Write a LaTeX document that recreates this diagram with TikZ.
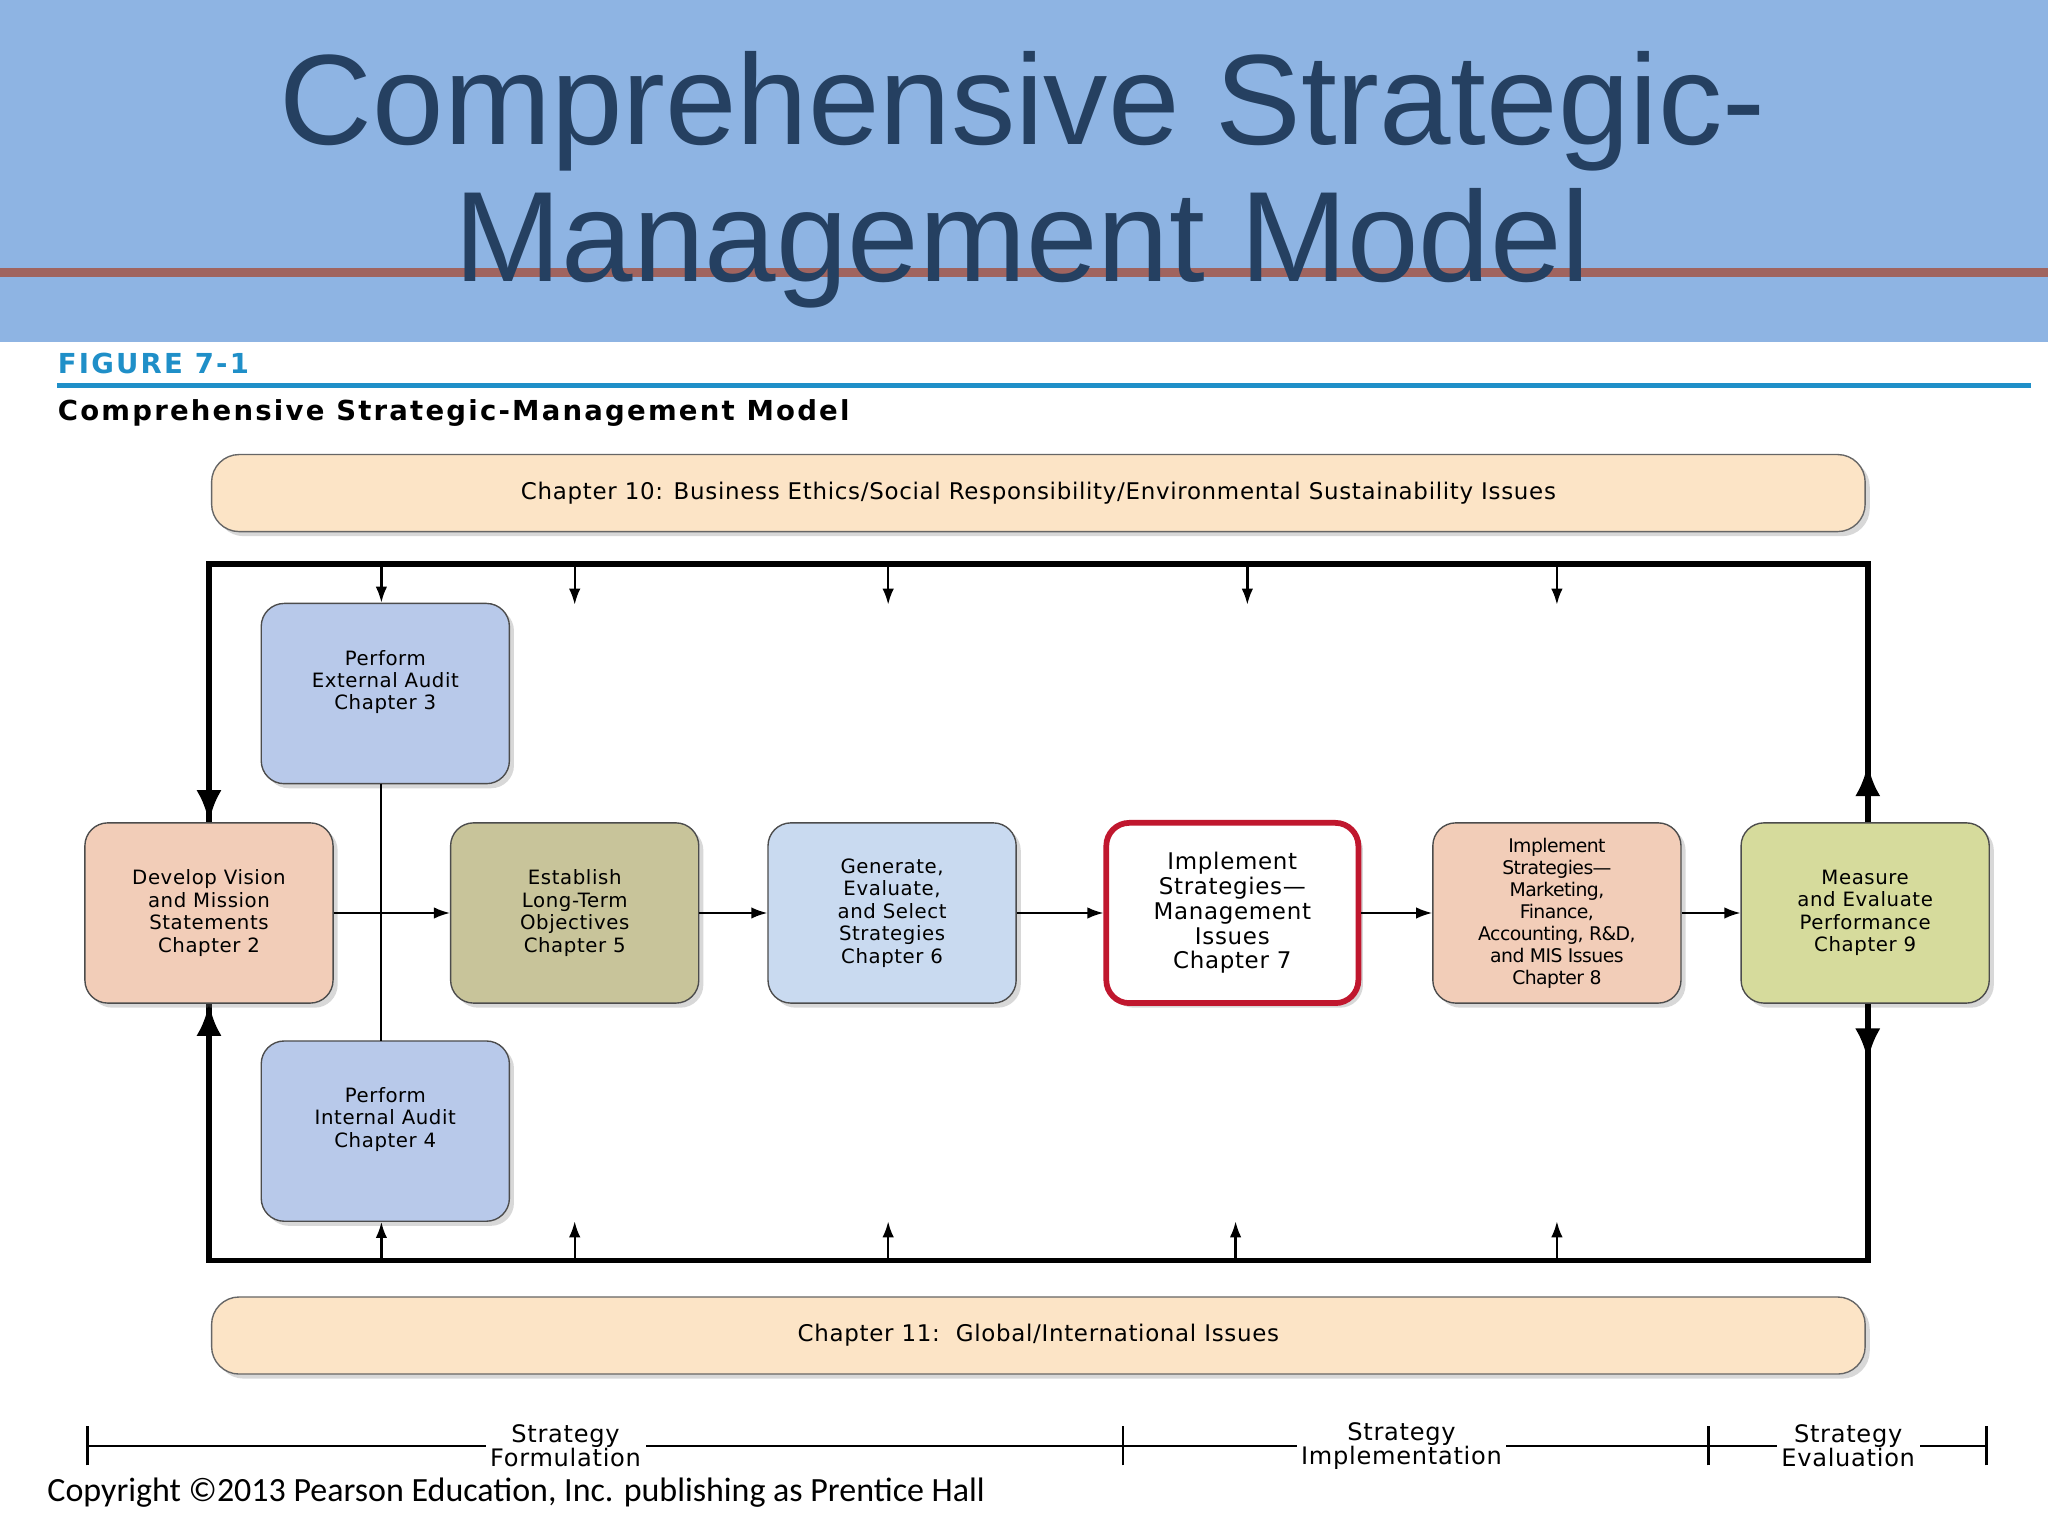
\documentclass[tikz,border=0pt]{standalone}
\usepackage{fontspec}
\setmainfont{DejaVu Sans}[LetterSpace=3]
\newfontfamily\carl{Carlito}
\newfontfamily\ttlfont{Liberation Sans}
\newfontfamily\headfont{DejaVu Sans}[LetterSpace=8]
\usetikzlibrary{arrows.meta,shadows}
\definecolor{band}{HTML}{8EB4E3}
\definecolor{ttl}{HTML}{254061}
\definecolor{rline}{HTML}{A0645F}
\definecolor{figblue}{HTML}{1F8FC8}
\definecolor{bar}{HTML}{FCE4C6}
\definecolor{peach}{HTML}{F2CDB8}
\definecolor{olive}{HTML}{C8C49A}
\definecolor{lblue}{HTML}{C9DAF0}
\definecolor{audit}{HTML}{B8C9EA}
\definecolor{lime}{HTML}{D6DB9C}
\definecolor{redb}{HTML}{C0172E}
\tikzset{
 pbox/.style={draw=black!70,line width=0.6pt,rounded corners=10pt,drop shadow={shadow xshift=2pt,shadow yshift=-2pt,opacity=0.3},align=center,font=\fontsize{8.6}{9.8}\selectfont,inner sep=0pt},
 hbar/.style={draw=black!60,line width=0.6pt,rounded corners=12pt,fill=bar,drop shadow={shadow xshift=2pt,shadow yshift=-2pt,opacity=0.3},font=\fontsize{10}{12}\selectfont},
 flow/.style={-{Latex[length=7pt,width=5pt]},line width=0.8pt},
 small/.style={-{Latex[length=7pt,width=5pt]},line width=1pt},
 big/.style={-{Latex[length=14pt,width=11pt]},line width=2.5pt},
 phase/.style={align=center,font=\fontsize{10.5}{10.5}\selectfont,fill=white,inner sep=2pt}
}
\begin{document}
\begin{tikzpicture}[x=0.02cm,y=-0.02cm]
\useasboundingbox (0,0) rectangle (1568,1176);
\fill[white] (0,0) rectangle (1568,1176);
\fill[band] (0,0) rectangle (1568,262);
\fill[rline] (0,205) rectangle (1568,212);
\node[text=ttl,font=\ttlfont\fontsize{56}{56}\selectfont] (t1) at (783,85) {Comprehensive Strategic-};
\node[text=ttl,font=\ttlfont\fontsize{56}{56}\selectfont] (t2) at (783,190) {Management Model};
\node[anchor=west,text=figblue,font=\headfont\bfseries\fontsize{12}{12}\selectfont,inner sep=0] (fig) at (44,278) {FIGURE 7-1};
\draw[figblue,line width=2.2pt] (44,295) -- (1555,295);
\node[anchor=west,font=\headfont\bfseries\fontsize{12}{12}\selectfont,inner sep=0] (ft) at (44,316) {Comprehensive Strategic-Management Model};
\node[hbar,minimum width=1266*0.02cm,minimum height=59*0.02cm] (top) at (795,377.5) {Chapter 10: Business Ethics/Social Responsibility/Environmental Sustainability Issues};
\node[hbar,minimum width=1266*0.02cm,minimum height=59*0.02cm] (bot) at (795,1022.5) {Chapter 11:\ \ Global/International Issues};
% frame
\coordinate (c1) at (160,432); \coordinate (c2) at (1430,432);
\coordinate (c3) at (1430,965); \coordinate (c4) at (160,965);
\draw[line width=2.5pt] (160,630) -- (c1) -- (c2) -- (1430,630);
\draw[line width=2.5pt] (160,768) -- (c4) -- (c3) -- (1430,768);
% boxes
\def\bw{190*0.02cm}\def\bh{138*0.02cm}
\node[pbox,fill=peach,minimum width=\bw,minimum height=\bh] (dv) at (160,699) {Develop Vision\\and Mission\\Statements\\Chapter 2};
\node[pbox,fill=olive,minimum width=\bw,minimum height=\bh] (el) at (440,699) {Establish\\Long-Term\\Objectives\\Chapter 5};
\node[pbox,fill=lblue,minimum width=\bw,minimum height=\bh] (ge) at (683,699) {Generate,\\Evaluate,\\and Select\\Strategies\\Chapter 6};
\node[pbox,fill=white,draw=redb,line width=2.5pt,minimum width=193*0.02cm,minimum height=\bh,font=\fontsize{10}{10.8}\selectfont] (im) at (943.5,699) {Implement\\Strategies---\\Management\\Issues\\Chapter 7};
\node[pbox,fill=peach,minimum width=\bw,minimum height=\bh,font=\addfontfeature{LetterSpace=-3}\fontsize{8.2}{9.6}\selectfont] (is) at (1192,699) {Implement\\Strategies---\\Marketing,\\Finance,\\Accounting, R\&D,\\and MIS Issues\\Chapter 8};
\node[pbox,fill=lime,minimum width=\bw,minimum height=\bh] (me) at (1428,699) {Measure\\and Evaluate\\Performance\\Chapter 9};
\node[pbox,fill=audit,minimum width=\bw,minimum height=\bh] (ea) at (295,531) {\raisebox{12pt}{\shortstack{Perform\\External Audit\\Chapter 3}}};
\node[pbox,fill=audit,minimum width=\bw,minimum height=\bh] (ia) at (295,866) {\raisebox{12pt}{\shortstack{Perform\\Internal Audit\\Chapter 4}}};
% flows
\draw[line width=0.8pt] (292,600) -- (292,797);
\draw[flow] (dv.east) -- (el.west);
\draw[flow] (el.east) -- (ge.west);
\draw[flow] (ge.east) -- (im.west);
\draw[flow] (im.east) -- (is.west);
\draw[flow] (is.east) -- (me.west);
% small arrows
\draw[small] (292,432) -- (ea.north -| 292,0);
\foreach \x in {440,680,955,1192} \draw[small] (\x,432) -- (\x,463);
\draw[small] (292,965) -- (ia.south -| 292,0);
\foreach \x in {440,680,946,1192} \draw[small] (\x,965) -- (\x,935);
% big arrows
\draw[big] (160,590) -- (dv.north -| 160,0);
\draw[big] (160,810) -- (dv.south -| 160,0);
\draw[big] (me.north -| 1430,0) -- (1430,585);
\draw[big] (me.south -| 1430,0) -- (1430,812);
% timeline
\coordinate (p0) at (67,1107); \coordinate (p1) at (860,1107);
\coordinate (p2) at (1308,1107); \coordinate (p3) at (1521,1107);
\draw[line width=1pt] (p0) -- (p3);
\foreach \p in {p0,p1,p2,p3} \draw[line width=1pt] ([yshift=-0.3cm]\p) -- ([yshift=0.3cm]\p);
\node[phase] (sf) at (433,1107) {Strategy\\Formulation};
\node[phase] (si) at (1073,1107) {Strategy\\Implementation};
\node[phase] (se) at (1415,1107) {Strategy\\Evaluation};
\node[anchor=west,inner sep=0,font=\carl\fontsize{14.8}{15}\selectfont] (cp) at (36,1143) {Copyright ©2013 Pearson Education, Inc. publishing as Prentice Hall};
\end{tikzpicture}
\end{document}
